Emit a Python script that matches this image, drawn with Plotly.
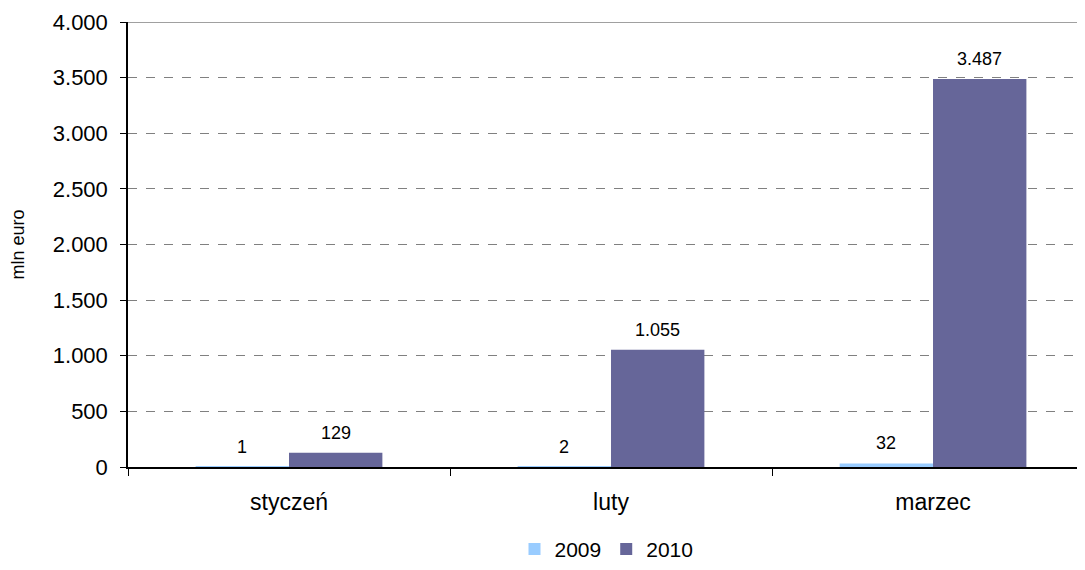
import plotly.graph_objects as go

categories = ["styczeń", "luty", "marzec"]
series_names = ["2009", "2010"]
values_2009 = [1, 2, 32]
values_2010 = [129, 1055, 3487]
y_ticks = [0, 500, 1000, 1500, 2000, 2500, 3000, 3500, 4000]

colors = {"2009": "#99CCFF", "2010": "#666699"}
FONT = "Liberation Sans, Arial, sans-serif"

fig = go.Figure()
for name, vals in zip(series_names, [values_2009, values_2010]):
    fig.add_trace(go.Bar(
        name=name, x=categories, y=vals,
        marker=dict(color=colors[name], line=dict(width=0)),
        hoverinfo="x+y",
    ))

# data labels
half = 0.5 * (1 - 0.42) / 2
for idx, (name, vals) in enumerate(zip(series_names, [values_2009, values_2010])):
    offset = -half if idx == 0 else half
    for i, v in enumerate(vals):
        label = f"{v:,}".replace(",", ".")
        fig.add_annotation(
            x=i + offset, y=v, xref="x", yref="y", text=label,
            showarrow=False, yanchor="bottom", yshift=8,
            font=dict(family=FONT, size=18, color="#000000"),
        )

fig.add_shape(type="line", xref="paper", yref="y", x0=0, x1=1, y0=4000, y1=4000,
              line=dict(color="#A0A0A0", width=2), layer="above")

fig.update_layout(
    width=1077, height=562,
    margin=dict(l=120, r=0, t=14, b=100),
    paper_bgcolor="white", plot_bgcolor="white",
    barmode="group", bargap=0.42, bargroupgap=0,
    separators=",.",
    font=dict(family=FONT, size=22, color="#000000"),
    showlegend=True,
    legend=dict(orientation="h", x=0.5, xanchor="center", y=-0.185, yanchor="middle",
                font=dict(family=FONT, size=21), itemwidth=30, tracegroupgap=0),
    xaxis=dict(
        range=[-0.5, 2.472], showgrid=False, showline=True, linecolor="#000000", linewidth=1.5,
        ticks="outside", tickson="boundaries", ticklen=7, tickcolor="#000000",
        ticklabelstandoff=14, tickfont=dict(family=FONT, size=23),
        zeroline=False, automargin=False,
    ),
    yaxis=dict(
        range=[0, 4000], tickvals=y_ticks, tickformat=",d",
        showgrid=True, gridcolor="#808080", griddash="dash", gridwidth=1,
        showline=True, linecolor="#000000", linewidth=1.5,
        ticks="outside", ticklen=6, tickcolor="#000000", ticklabelstandoff=8,
        tickfont=dict(family=FONT, size=22),
        zeroline=False, automargin=False,
        title=dict(text="mln euro", font=dict(family=FONT, size=18), standoff=28),
    ),
)

fig.write_html("out.html", config={"displayModeBar": False})
